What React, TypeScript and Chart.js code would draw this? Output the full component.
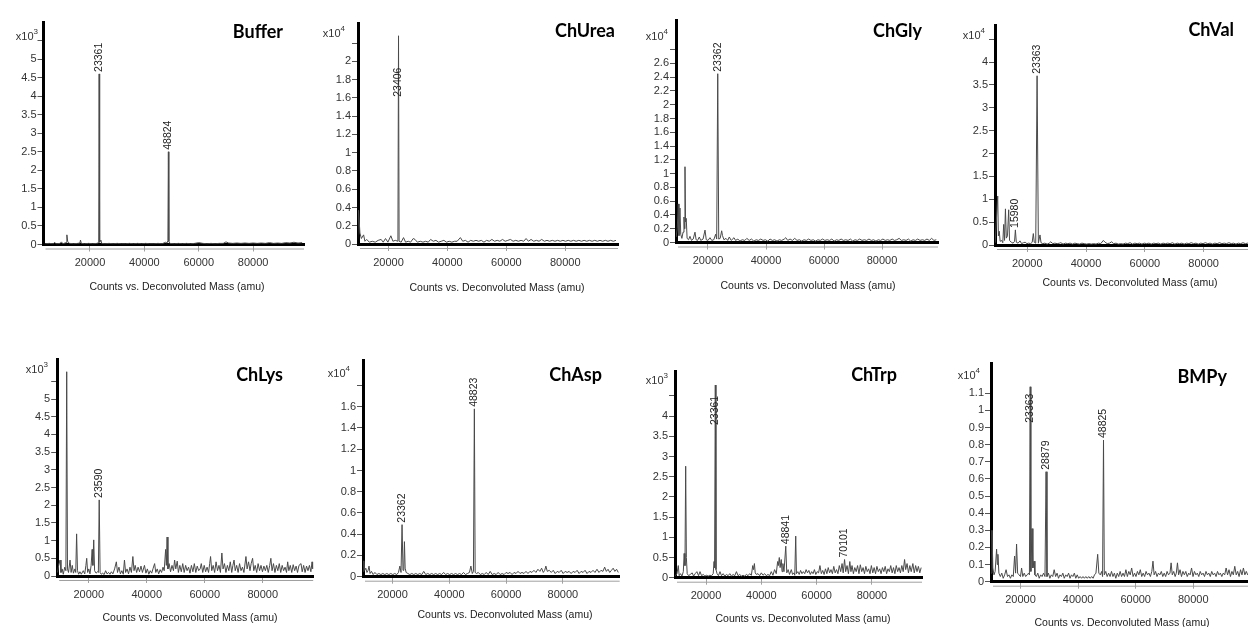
import { useEffect, useRef } from 'react';
import { Chart, registerables } from 'chart.js';

Chart.register(...registerables);

const SANS = '"Liberation Sans", Arial, sans-serif';
const TITLE_FONT = '700 18px Lato, "Open Sans", sans-serif';
const CAPTION = 'Counts vs. Deconvoluted Mass (amu)';

// Shared mass-axis ticks (amu)
const massTicks = [20000, 40000, 60000, 80000];

// ---- Buffer (counts x10^3) ----
const bufferSpectrum = [
  [3500, 0.02], [5000, 0.03], [6500, 0.02], [7000, 0.06], [7500, 0.02], [9000, 0.03], [9500, 0.07], [10000, 0.02],
  [11200, 0.05], [11500, 0.26], [11800, 0.08], [12500, 0.03], [14000, 0.02], [15500, 0.03], [16300, 0.04], [16500, 0.12],
  [16800, 0.03], [18000, 0.02], [19500, 0.03], [21000, 0.02], [22500, 0.03], [23200, 0.05], [23361, 4.6], [23550, 0.06],
  [24000, 0.12], [24300, 0.03], [25500, 0.02], [27000, 0.03], [28500, 0.02], [30000, 0.03], [31500, 0.02], [33000, 0.02],
  [34500, 0.03], [36000, 0.02], [37500, 0.03], [39000, 0.02], [40500, 0.03], [42000, 0.02], [43500, 0.02], [45000, 0.03],
  [46500, 0.02], [47800, 0.06], [48300, 0.04], [48650, 0.1], [48824, 2.5], [49000, 0.08], [49400, 0.03], [51000, 0.02],
  [52500, 0.03], [54000, 0.02], [55500, 0.03], [57000, 0.02], [58500, 0.03], [60000, 0.05], [61500, 0.03], [63000, 0.02],
  [64500, 0.03], [66000, 0.02], [67500, 0.03], [69000, 0.03], [70000, 0.07], [71000, 0.04], [72500, 0.03], [74000, 0.04],
  [75500, 0.03], [77000, 0.04], [78500, 0.03], [80000, 0.04], [81500, 0.03], [83000, 0.04], [84500, 0.03], [86000, 0.05],
  [87500, 0.03], [89000, 0.04], [90500, 0.03], [92000, 0.05], [93500, 0.04], [95000, 0.06], [96500, 0.04], [98000, 0.05],
];
const bufferPeakLabels = ['23361', '48824'];
const bufferYTicks = [0, 0.5, 1, 1.5, 2, 2.5, 3, 3.5, 4, 4.5, 5, 5.5];

// ---- ChUrea (counts x10^4) ----
const chUreaSpectrum = [
  [9500, 0.05], [9850, 0.37], [10300, 0.12], [10800, 0.06], [11550, 0.1], [12000, 0.03], [12600, 0.05], [13500, 0.02],
  [14500, 0.03], [15500, 0.02], [16500, 0.04], [17500, 0.05], [18200, 0.02], [19000, 0.06], [19800, 0.02], [20800, 0.09],
  [21500, 0.03], [22300, 0.04], [23200, 0.03], [23406, 2.28], [23600, 0.03], [24300, 0.02], [25100, 0.07], [25800, 0.02],
  [26700, 0.03], [27500, 0.02], [28400, 0.06], [29000, 0.05], [29800, 0.02], [30800, 0.03], [31700, 0.02], [32600, 0.03],
  [33500, 0.02], [34300, 0.05], [35200, 0.03], [36100, 0.04], [37000, 0.02], [37900, 0.03], [38800, 0.04], [39700, 0.02],
  [40600, 0.03], [41500, 0.02], [42400, 0.03], [43300, 0.03], [44400, 0.07], [45200, 0.03], [46100, 0.04], [47000, 0.02],
  [47900, 0.04], [48800, 0.03], [49700, 0.04], [50600, 0.03], [51500, 0.04], [52400, 0.02], [53300, 0.04], [54200, 0.03],
  [55100, 0.05], [56000, 0.03], [56900, 0.04], [57800, 0.03], [58700, 0.05], [59600, 0.03], [60500, 0.04], [61400, 0.05],
  [62300, 0.03], [63200, 0.04], [64100, 0.03], [65000, 0.04], [65900, 0.03], [66700, 0.06], [67500, 0.03], [68400, 0.05],
  [69300, 0.03], [70200, 0.04], [71100, 0.03], [72000, 0.05], [72900, 0.03], [73800, 0.04], [74700, 0.03], [75600, 0.04],
  [76500, 0.03], [77400, 0.04], [78300, 0.03], [79200, 0.04], [80100, 0.03], [81000, 0.04], [81900, 0.03], [82800, 0.04],
  [83700, 0.03], [84600, 0.04], [85500, 0.03], [86400, 0.04], [87300, 0.03], [88200, 0.04], [89100, 0.03], [90000, 0.04],
  [90900, 0.03], [91800, 0.04], [92700, 0.03], [93600, 0.04], [94500, 0.03], [95400, 0.04], [96300, 0.03], [97200, 0.04],
];
const chUreaPeakLabels = ['23406'];
const chUreaYTicks = [0, 0.2, 0.4, 0.6, 0.8, 1, 1.2, 1.4, 1.6, 1.8, 2, 2.2];

// ---- ChGly (counts x10^4) ----
const chGlySpectrum = [
  [9000, 0.08], [9400, 0.2], [9760, 0.56], [10000, 0.1], [10340, 0.5], [10600, 0.12], [11000, 0.06], [11400, 0.15],
  [11720, 0.37], [11900, 0.2], [12070, 1.1], [12250, 0.3], [12500, 0.35], [12800, 0.06], [13300, 0.04], [13790, 0.09],
  [14300, 0.03], [14900, 0.05], [15520, 0.15], [15900, 0.04], [16400, 0.03], [17000, 0.08], [17500, 0.03], [18300, 0.05],
  [18970, 0.18], [19400, 0.04], [20000, 0.03], [20690, 0.07], [21300, 0.03], [22000, 0.04], [22650, 0.12], [23000, 0.05],
  [23362, 2.45], [23700, 0.05], [24200, 0.06], [24720, 0.17], [25000, 0.1], [25500, 0.04], [26200, 0.06], [26800, 0.03],
  [27350, 0.08], [28000, 0.03], [28970, 0.07], [29500, 0.03], [30300, 0.05], [31000, 0.02], [31800, 0.04], [32700, 0.03],
  [33400, 0.06], [34200, 0.03], [35000, 0.05], [35800, 0.02], [36600, 0.04], [37400, 0.03], [38200, 0.05], [39000, 0.03],
  [39800, 0.04], [40600, 0.02], [41400, 0.05], [42200, 0.03], [43000, 0.04], [43800, 0.02], [44600, 0.04], [45400, 0.03],
  [46300, 0.05], [46800, 0.07], [47500, 0.03], [48300, 0.05], [49100, 0.03], [49900, 0.06], [50700, 0.03], [51500, 0.04],
  [52300, 0.02], [53100, 0.04], [53900, 0.03], [54700, 0.05], [55500, 0.03], [56300, 0.04], [57100, 0.02], [57900, 0.04],
  [58700, 0.03], [59500, 0.05], [60300, 0.03], [61100, 0.04], [61900, 0.03], [62700, 0.05], [63500, 0.02], [64300, 0.04],
  [65100, 0.03], [65900, 0.05], [66700, 0.03], [67500, 0.04], [68300, 0.03], [69100, 0.05], [69900, 0.02], [70700, 0.04],
  [71500, 0.03], [72300, 0.05], [73100, 0.03], [73900, 0.04], [74700, 0.03], [75500, 0.05], [76300, 0.03], [77100, 0.04],
  [77900, 0.02], [78700, 0.04], [79500, 0.03], [80300, 0.05], [81100, 0.03], [81900, 0.04], [82700, 0.03], [83500, 0.05],
  [84300, 0.03], [85100, 0.04], [85900, 0.06], [86700, 0.03], [87500, 0.04], [88300, 0.03], [89100, 0.05], [89900, 0.02],
  [90700, 0.04], [91500, 0.03], [92300, 0.05], [93100, 0.03], [93900, 0.04], [94700, 0.03], [95500, 0.05], [96300, 0.03],
  [97100, 0.06], [97900, 0.03], [98700, 0.04],
];
const chGlyPeakLabels = ['23362'];
const chGlyYTicks = [0, 0.2, 0.4, 0.6, 0.8, 1, 1.2, 1.4, 1.6, 1.8, 2, 2.2, 2.4, 2.6, 2.8];

// ---- ChVal (counts x10^4) ----
const chValSpectrum = [
  [9100, 0.05], [9970, 1.07], [10200, 0.2], [10500, 0.3], [10800, 0.08], [11300, 0.1], [11700, 0.05], [12000, 0.45],
  [12300, 0.1], [12600, 0.79], [12900, 0.15], [13300, 0.2], [13700, 0.77], [14000, 0.1], [14600, 0.06], [15200, 0.04],
  [15700, 0.08], [15980, 0.33], [16300, 0.06], [16900, 0.04], [17550, 0.09], [18100, 0.03], [18700, 0.05], [19300, 0.06],
  [19900, 0.03], [20500, 0.04], [21200, 0.03], [21700, 0.06], [22080, 0.25], [22400, 0.06], [22900, 0.04], [23363, 3.7],
  [23800, 0.04], [24350, 0.22], [24700, 0.05], [25300, 0.03], [26000, 0.04], [26800, 0.02], [27500, 0.04], [28000, 0.07],
  [28700, 0.03], [29400, 0.04], [30200, 0.03], [31000, 0.04], [31400, 0.05], [32200, 0.02], [33000, 0.04], [33800, 0.03],
  [34600, 0.04], [35400, 0.02], [36200, 0.04], [37000, 0.03], [37800, 0.02], [38600, 0.04], [39400, 0.03], [40200, 0.02],
  [41000, 0.03], [41800, 0.02], [42600, 0.03], [43400, 0.02], [44200, 0.04], [45000, 0.03], [45900, 0.1], [46500, 0.06],
  [47200, 0.03], [48000, 0.04], [48700, 0.07], [49400, 0.03], [50200, 0.04], [51000, 0.02], [51800, 0.03], [52600, 0.02],
  [53400, 0.04], [54200, 0.03], [55000, 0.05], [55800, 0.02], [56600, 0.04], [57400, 0.03], [58200, 0.04], [59000, 0.02],
  [59800, 0.04], [60600, 0.03], [61400, 0.04], [62200, 0.02], [63000, 0.04], [63800, 0.03], [64600, 0.04], [65400, 0.02],
  [66200, 0.04], [67000, 0.03], [67800, 0.04], [68600, 0.03], [69400, 0.05], [70200, 0.02], [71000, 0.04], [71800, 0.03],
  [72600, 0.04], [73400, 0.02], [74200, 0.04], [75000, 0.03], [75800, 0.05], [76600, 0.03], [77400, 0.04], [78200, 0.02],
  [79000, 0.04], [79800, 0.03], [80600, 0.05], [81400, 0.03], [82200, 0.04], [83000, 0.02], [83800, 0.04], [84600, 0.03],
  [85400, 0.05], [86200, 0.03], [87000, 0.04], [87800, 0.03], [88600, 0.05], [89400, 0.03], [90200, 0.04], [91000, 0.02],
  [91800, 0.04], [92600, 0.03], [93400, 0.05], [94200, 0.03], [95000, 0.04], [95800, 0.03], [96600, 0.05], [97400, 0.03],
  [98200, 0.04], [99000, 0.03],
];
const chValPeakLabels = ['23363', '15980'];
const chValYTicks = [0, 0.5, 1, 1.5, 2, 2.5, 3, 3.5, 4, 4.5];

// ---- ChLys (counts x10^3) ----
const chLysSpectrum = [
  [9200, 0.1], [9600, 0.3], [10070, 0.45], [10400, 0.1], [10800, 0.2], [11200, 0.05], [11700, 0.25], [12100, 0.15],
  [12380, 5.77], [12650, 0.2], [13000, 0.1], [13530, 0.45], [13900, 0.1], [14300, 0.3], [14700, 0.08], [15200, 0.2],
  [15500, 0.1], [15800, 1.19], [16100, 0.15], [16500, 0.05], [16950, 0.12], [17400, 0.05], [18100, 0.15], [18600, 0.06],
  [19000, 0.3], [19280, 0.5], [19600, 0.1], [20000, 0.2], [20400, 0.06], [20800, 0.3], [21150, 0.75], [21400, 0.3],
  [21700, 1.02], [22000, 0.15], [22500, 0.08], [23000, 0.12], [23300, 0.1], [23590, 2.15], [23900, 0.1], [24300, 0.05],
  [24800, 0.08], [25300, 0.04], [25800, 0.15], [26300, 0.06], [26800, 0.1], [27300, 0.05], [27800, 0.12], [28300, 0.06],
  [28900, 0.2], [29500, 0.4], [29900, 0.1], [30400, 0.25], [30900, 0.06], [31400, 0.15], [31900, 0.05], [32300, 0.45],
  [32700, 0.1], [33200, 0.2], [33700, 0.06], [34200, 0.25], [34700, 0.1], [35200, 0.55], [35600, 0.15], [36000, 0.3],
  [36500, 0.1], [37000, 0.25], [37500, 0.12], [38000, 0.28], [38500, 0.1], [39200, 0.3], [39700, 0.08], [40200, 0.2],
  [40700, 0.05], [41200, 0.15], [41700, 0.08], [42200, 0.22], [42700, 0.35], [43100, 0.1], [43600, 0.2], [44100, 0.06],
  [44600, 0.18], [45100, 0.1], [45600, 0.25], [46000, 0.15], [46500, 0.75], [46750, 0.3], [47000, 1.1], [47300, 0.2],
  [47700, 0.35], [48200, 0.12], [48700, 0.3], [49200, 0.15], [49600, 0.45], [50000, 0.2], [50500, 0.42], [50900, 0.1],
  [51400, 0.3], [51900, 0.12], [52400, 0.35], [52900, 0.1], [53400, 0.3], [53900, 0.15], [54400, 0.25], [54900, 0.08],
  [55400, 0.3], [55900, 0.12], [56400, 0.35], [56900, 0.1], [57400, 0.28], [57900, 0.15], [58400, 0.2], [58800, 0.35],
  [59300, 0.1], [59800, 0.3], [60300, 0.12], [60800, 0.25], [61300, 0.1], [61700, 0.35], [62000, 0.55], [62400, 0.15],
  [62900, 0.3], [63400, 0.1], [63900, 0.4], [64400, 0.15], [64900, 0.3], [65400, 0.1], [65900, 0.65], [66300, 0.2],
  [66800, 0.35], [67300, 0.1], [67800, 0.3], [68300, 0.15], [68800, 0.4], [69300, 0.1], [69700, 0.3], [70100, 0.45],
  [70500, 0.15], [71000, 0.3], [71500, 0.1], [72000, 0.35], [72500, 0.15], [73000, 0.25], [73500, 0.1], [74200, 0.55],
  [74600, 0.2], [75100, 0.4], [75600, 0.15], [76000, 0.35], [76500, 0.5], [76900, 0.15], [77400, 0.3], [77900, 0.1],
  [78400, 0.35], [78900, 0.15], [79400, 0.3], [79900, 0.12], [80400, 0.28], [80900, 0.15], [81400, 0.3], [81900, 0.1],
  [82400, 0.3], [82800, 0.5], [83200, 0.15], [83700, 0.35], [84200, 0.1], [84700, 0.3], [85200, 0.15], [85700, 0.35],
  [86200, 0.1], [86700, 0.3], [87200, 0.15], [87700, 0.25], [88200, 0.1], [88600, 0.4], [89000, 0.15], [89500, 0.3],
  [90000, 0.1], [90500, 0.32], [91000, 0.15], [91500, 0.28], [92000, 0.1], [92500, 0.3], [93200, 0.35], [93600, 0.12],
  [94100, 0.3], [94600, 0.1], [95100, 0.28], [95600, 0.15], [96100, 0.3], [96600, 0.12], [97000, 0.4], [97300, 0.2],
];
const chLysPeakLabels = ['23590'];
const chLysYTicks = [0, 0.5, 1, 1.5, 2, 2.5, 3, 3.5, 4, 4.5, 5, 5.5];

// ---- ChAsp (counts x10^4) ----
const chAspSpectrum = [
  [9700, 0.05], [9900, 0.15], [10200, 0.06], [10600, 0.08], [11000, 0.04], [11400, 0.06], [11730, 0.1], [12100, 0.03],
  [12600, 0.05], [13200, 0.02], [13800, 0.04], [14500, 0.02], [15200, 0.03], [15900, 0.02], [16600, 0.03], [17300, 0.02],
  [18000, 0.03], [18700, 0.02], [19400, 0.03], [20100, 0.02], [20800, 0.03], [21500, 0.02], [22100, 0.04], [22600, 0.1],
  [23000, 0.04], [23362, 0.49], [23700, 0.06], [24000, 0.1], [24200, 0.33], [24450, 0.08], [24800, 0.04], [25400, 0.03],
  [26100, 0.02], [26800, 0.03], [27500, 0.02], [28200, 0.03], [28900, 0.02], [29600, 0.03], [30300, 0.02], [31000, 0.05],
  [31700, 0.02], [32400, 0.03], [33100, 0.02], [33800, 0.03], [34500, 0.02], [35200, 0.03], [35900, 0.02], [36600, 0.03],
  [37300, 0.02], [38000, 0.04], [38700, 0.02], [39400, 0.03], [40100, 0.02], [40800, 0.03], [41500, 0.02], [42200, 0.03],
  [42900, 0.02], [43600, 0.03], [44300, 0.02], [45000, 0.04], [45700, 0.02], [46400, 0.03], [47100, 0.04], [47600, 0.1],
  [48100, 0.03], [48500, 0.05], [48823, 1.58], [49100, 0.04], [49600, 0.03], [50200, 0.04], [50900, 0.02], [51600, 0.03],
  [52300, 0.02], [53000, 0.04], [53700, 0.02], [54400, 0.05], [55100, 0.02], [55800, 0.03], [56500, 0.02], [57200, 0.04],
  [57900, 0.02], [58600, 0.03], [59300, 0.02], [60000, 0.04], [60700, 0.03], [61400, 0.04], [62100, 0.02], [62800, 0.04],
  [63500, 0.03], [64200, 0.05], [64900, 0.03], [65600, 0.04], [66300, 0.03], [67000, 0.05], [67700, 0.03], [68400, 0.05],
  [69100, 0.04], [69800, 0.06], [70500, 0.04], [71200, 0.07], [71900, 0.05], [72500, 0.08], [73100, 0.04], [73600, 0.06],
  [74000, 0.1], [74500, 0.05], [75200, 0.06], [75900, 0.04], [76600, 0.06], [77300, 0.03], [78000, 0.05], [78700, 0.04],
  [79400, 0.06], [80100, 0.03], [80800, 0.05], [81500, 0.04], [82200, 0.05], [82900, 0.03], [83600, 0.05], [84300, 0.04],
  [85000, 0.06], [85700, 0.03], [86400, 0.05], [87100, 0.04], [87800, 0.06], [88500, 0.03], [89200, 0.05], [89900, 0.04],
  [90600, 0.06], [91300, 0.04], [92000, 0.07], [92700, 0.04], [93400, 0.06], [94100, 0.05], [94700, 0.09], [95300, 0.05],
  [95900, 0.07], [96500, 0.04], [97100, 0.06], [97700, 0.08], [98300, 0.05], [98900, 0.07], [99500, 0.04],
];
const chAspPeakLabels = ['23362', '48823'];
const chAspYTicks = [0, 0.2, 0.4, 0.6, 0.8, 1, 1.2, 1.4, 1.6, 1.8];

// ---- ChTrp (counts x10^3) ----
const chTrpSpectrum = [
  [8900, 0.05], [9500, 0.1], [9980, 0.3], [10300, 0.05], [10800, 0.1], [11300, 0.04], [11800, 0.15], [12100, 0.6],
  [12400, 0.3], [12650, 2.76], [12900, 0.5], [13200, 0.1], [13700, 0.05], [14300, 0.08], [15000, 0.12], [15500, 0.04],
  [16100, 0.1], [16700, 0.15], [17300, 0.05], [17830, 0.15], [18400, 0.05], [19000, 0.08], [19600, 0.04], [20200, 0.06],
  [20800, 0.04], [21400, 0.06], [22000, 0.05], [22600, 0.1], [22900, 0.4], [23100, 0.25], [23361, 4.77], [23600, 0.2],
  [24000, 0.1], [24500, 0.05], [25060, 0.15], [25600, 0.05], [26200, 0.1], [26800, 0.04], [27400, 0.08], [28000, 0.05],
  [28600, 0.1], [29200, 0.04], [29800, 0.08], [30400, 0.05], [31000, 0.15], [31600, 0.05], [32200, 0.08], [32800, 0.04],
  [33400, 0.06], [34000, 0.04], [34600, 0.08], [35200, 0.05], [35800, 0.1], [36400, 0.06], [36900, 0.3], [37200, 0.2],
  [37500, 0.35], [37800, 0.12], [38200, 0.08], [38800, 0.1], [39400, 0.05], [40000, 0.12], [40600, 0.06], [41200, 0.1],
  [41800, 0.05], [42400, 0.08], [43000, 0.05], [43600, 0.15], [44200, 0.06], [44800, 0.2], [45400, 0.1], [45900, 0.4],
  [46150, 0.3], [46500, 0.5], [46800, 0.25], [47200, 0.45], [47500, 0.15], [47800, 0.35], [48200, 0.15], [48841, 0.78],
  [49200, 0.12], [49700, 0.2], [50200, 0.08], [50850, 0.2], [51300, 0.08], [51800, 0.12], [52100, 0.06], [52440, 1.03],
  [52700, 0.1], [53200, 0.15], [53700, 0.08], [54200, 0.18], [54700, 0.1], [55200, 0.15], [55700, 0.1], [56200, 0.2],
  [56700, 0.12], [57200, 0.18], [57700, 0.08], [58200, 0.15], [58700, 0.1], [59200, 0.2], [59700, 0.08], [60200, 0.15],
  [60700, 0.12], [61200, 0.3], [61700, 0.1], [62200, 0.18], [62700, 0.08], [63200, 0.22], [63700, 0.1], [64200, 0.25],
  [64700, 0.12], [65200, 0.2], [65700, 0.1], [66200, 0.28], [66700, 0.12], [67200, 0.2], [67700, 0.1], [68200, 0.3],
  [68700, 0.15], [69200, 0.35], [69600, 0.12], [70101, 0.45], [70500, 0.15], [71000, 0.3], [71500, 0.1], [72000, 0.4],
  [72400, 0.15], [72800, 0.3], [73300, 0.1], [73800, 0.25], [74300, 0.15], [74800, 0.3], [75300, 0.1], [75800, 0.32],
  [76300, 0.15], [76800, 0.25], [77300, 0.1], [77800, 0.28], [78300, 0.15], [78800, 0.22], [79300, 0.1], [79800, 0.3],
  [80300, 0.12], [80800, 0.25], [81300, 0.1], [81800, 0.28], [82300, 0.15], [82800, 0.22], [83300, 0.1], [83800, 0.25],
  [84300, 0.15], [84800, 0.28], [85300, 0.1], [85800, 0.22], [86300, 0.15], [86800, 0.3], [87300, 0.12], [87800, 0.25],
  [88300, 0.1], [88800, 0.3], [89300, 0.15], [89800, 0.25], [90300, 0.12], [90800, 0.3], [91300, 0.15], [91800, 0.45],
  [92200, 0.2], [92700, 0.35], [93200, 0.12], [93700, 0.3], [94200, 0.15], [94800, 0.35], [95300, 0.12], [95800, 0.3],
  [96300, 0.15], [96800, 0.28], [97300, 0.12], [97800, 0.25],
];
const chTrpPeakLabels = ['23361', '48841', '70101'];
const chTrpYTicks = [0, 0.5, 1, 1.5, 2, 2.5, 3, 3.5, 4, 4.5];

// ---- BMPy (counts x10^4) ----
const bmpySpectrum = [
  [9800, 0.05], [10100, 0.3], [10400, 0.08], [10800, 0.04], [11200, 0.06], [11700, 0.19], [11950, 0.1], [12160, 0.16],
  [12500, 0.05], [13000, 0.03], [13500, 0.05], [14000, 0.02], [14500, 0.04], [15000, 0.07], [15500, 0.03], [16000, 0.04],
  [16500, 0.02], [17000, 0.04], [17500, 0.03], [17950, 0.15], [18300, 0.05], [18640, 0.22], [19000, 0.05], [19500, 0.04],
  [20000, 0.03], [20380, 0.08], [20800, 0.03], [21300, 0.05], [21800, 0.03], [22300, 0.04], [22800, 0.05], [23100, 0.04],
  [23363, 1.138], [23600, 0.06], [24000, 0.31], [24300, 0.08], [24700, 0.12], [25000, 0.04], [25500, 0.03], [26000, 0.05],
  [26500, 0.02], [27000, 0.04], [27500, 0.03], [28000, 0.05], [28500, 0.03], [28879, 0.642], [29200, 0.03], [29700, 0.05],
  [30200, 0.02], [30700, 0.04], [31200, 0.03], [31700, 0.07], [32200, 0.03], [32700, 0.05], [33200, 0.02], [33700, 0.04],
  [34200, 0.03], [34700, 0.05], [35200, 0.02], [35700, 0.04], [36200, 0.03], [36700, 0.05], [37200, 0.02], [37700, 0.04],
  [38200, 0.03], [38700, 0.05], [39200, 0.02], [39700, 0.04], [40200, 0.02], [40700, 0.03], [41200, 0.02], [41700, 0.03],
  [42200, 0.02], [42700, 0.03], [43200, 0.02], [43700, 0.03], [44200, 0.02], [44700, 0.03], [45200, 0.02], [45700, 0.04],
  [46200, 0.05], [46800, 0.16], [47200, 0.05], [47700, 0.04], [48200, 0.06], [48500, 0.03], [48825, 0.827], [49100, 0.04],
  [49600, 0.06], [50100, 0.03], [50600, 0.05], [51100, 0.03], [51600, 0.06], [52100, 0.03], [52600, 0.05], [53100, 0.02],
  [53600, 0.05], [54100, 0.03], [54600, 0.06], [55100, 0.03], [55600, 0.05], [56100, 0.03], [56600, 0.07], [57100, 0.03],
  [57600, 0.06], [58100, 0.04], [58600, 0.08], [59100, 0.03], [59600, 0.05], [60100, 0.03], [60600, 0.06], [61100, 0.04],
  [61600, 0.07], [62100, 0.03], [62600, 0.05], [63100, 0.03], [63600, 0.06], [64100, 0.04], [64600, 0.05], [65100, 0.03],
  [65600, 0.06], [66000, 0.12], [66400, 0.04], [66900, 0.06], [67400, 0.03], [67900, 0.05], [68400, 0.04], [68900, 0.06],
  [69400, 0.03], [69900, 0.05], [70400, 0.03], [70900, 0.06], [71400, 0.04], [71900, 0.05], [72300, 0.11], [72700, 0.04],
  [73200, 0.06], [73700, 0.03], [74100, 0.05], [74500, 0.11], [74900, 0.04], [75400, 0.07], [75900, 0.03], [76400, 0.06],
  [76900, 0.04], [77400, 0.06], [77900, 0.03], [78400, 0.05], [78900, 0.04], [79400, 0.08], [79900, 0.03], [80400, 0.06],
  [80900, 0.04], [81400, 0.05], [81900, 0.03], [82400, 0.06], [82900, 0.04], [83400, 0.05], [83900, 0.03], [84400, 0.06],
  [84900, 0.04], [85400, 0.05], [85900, 0.03], [86400, 0.06], [86900, 0.04], [87400, 0.05], [87900, 0.03], [88400, 0.06],
  [88900, 0.04], [89400, 0.05], [89900, 0.03], [90400, 0.05], [90900, 0.04], [91400, 0.08], [91900, 0.04], [92400, 0.07],
  [92900, 0.03], [93400, 0.06], [93900, 0.04], [94400, 0.09], [94900, 0.04], [95400, 0.06], [95900, 0.03], [96400, 0.07],
  [96900, 0.04], [97400, 0.08], [97900, 0.04], [98400, 0.06], [98900, 0.04], [99400, 0.05],
];
const bmpyPeakLabels = ['23363', '28879', '48825'];
const bmpyYTicks = [0, 0.1, 0.2, 0.3, 0.4, 0.5, 0.6, 0.7, 0.8, 0.9, 1, 1.1];

type PanelSpec = {
  title: string;
  exp: string;
  data: number[][];
  peaks: string[];
  yTicks: number[];
  blankTop: boolean; // highest tick drawn without a label
  xMin: number;
  xMax: number;
  yMax: number;
  plot: [number, number, number, number]; // left, top, right, bottom (page px)
  titleAt: [number, number]; // right edge, middle
  expAt: [number, number]; // right edge, middle
  captionAt: [number, number];
  labelDrop?: Record<string, number>;
};

const panels: PanelSpec[] = [
  {
    title: 'Buffer', exp: '3', data: bufferSpectrum, peaks: bufferPeakLabels, yTicks: bufferYTicks, blankTop: true,
    xMin: 2900, xMax: 98700, yMax: 6.0, plot: [43.5, 22, 304, 244.5],
    titleAt: [283, 32], expAt: [38, 36], captionAt: [177, 287],
  },
  {
    title: 'ChUrea', exp: '4', data: chUreaSpectrum, peaks: chUreaPeakLabels, yTicks: chUreaYTicks, blankTop: true,
    xMin: 9650, xMax: 97900, yMax: 2.42, plot: [358, 23, 618, 244],
    titleAt: [615, 31], expAt: [345, 33], captionAt: [497, 288], labelDrop: { '23406': 61 },
  },
  {
    title: 'ChGly', exp: '4', data: chGlySpectrum, peaks: chGlyPeakLabels, yTicks: chGlyYTicks, blankTop: true,
    xMin: 8970, xMax: 99300, yMax: 3.23, plot: [676, 20, 938, 242.5],
    titleAt: [922, 31], expAt: [668, 36], captionAt: [808, 286],
  },
  {
    title: 'ChVal', exp: '4', data: chValSpectrum, peaks: chValPeakLabels, yTicks: chValYTicks, blankTop: true,
    xMin: 9050, xMax: 99000, yMax: 4.81, plot: [995, 25, 1259.5, 245],
    titleAt: [1234, 30], expAt: [985, 35], captionAt: [1130, 283],
  },
  {
    title: 'ChLys', exp: '3', data: chLysSpectrum, peaks: chLysPeakLabels, yTicks: chLysYTicks, blankTop: true,
    xMin: 9100, xMax: 97400, yMax: 6.13, plot: [57.2, 359, 313.2, 576],
    titleAt: [283, 375], expAt: [48, 369], captionAt: [190, 618],
  },
  {
    title: 'ChAsp', exp: '4', data: chAspSpectrum, peaks: chAspPeakLabels, yTicks: chAspYTicks, blankTop: true,
    xMin: 9610, xMax: 100000, yMax: 2.04, plot: [363, 360, 619.7, 576.7],
    titleAt: [602, 375], expAt: [350, 373], captionAt: [505, 615],
  },
  {
    title: 'ChTrp', exp: '3', data: chTrpSpectrum, peaks: chTrpPeakLabels, yTicks: chTrpYTicks, blankTop: true,
    xMin: 8790, xMax: 98100, yMax: 5.1, plot: [675, 371.7, 922, 577.7],
    titleAt: [897, 375], expAt: [668, 380], captionAt: [803, 619], labelDrop: { '23361': 40 },
  },
  {
    title: 'BMPy', exp: '4', data: bmpySpectrum, peaks: bmpyPeakLabels, yTicks: bmpyYTicks, blankTop: false,
    xMin: 9760, xMax: 100000, yMax: 1.275, plot: [991, 363.3, 1250.9, 581.7],
    titleAt: [1227, 376.7], expAt: [980, 375], captionAt: [1122, 623], labelDrop: { '23363': 36 },
  },
];

const Y_AXIS_W = 40;
const X_AXIS_H = 30;

// Draws the panel name, the x10^n multiplier, the axis caption, the thin rule
// under the mass axis and the rotated peak mass labels.
const spectrumDecor = {
  id: 'spectrumDecor',
  afterDraw(chart: any, _args: any, opts: any) {
    const p: PanelSpec = opts.panel;
    const ox: number = opts.ox;
    const oy: number = opts.oy;
    const { ctx, chartArea: a } = chart;
    const xs = chart.scales.x;
    const ys = chart.scales.y;
    ctx.save();

    ctx.strokeStyle = '#a0a0a0';
    ctx.lineWidth = 1;
    ctx.beginPath();
    ctx.moveTo(a.left + 2, a.bottom + 4.5);
    ctx.lineTo(a.right, a.bottom + 4.5);
    ctx.stroke();

    ctx.fillStyle = '#000';
    ctx.font = TITLE_FONT;
    ctx.textAlign = 'right';
    ctx.textBaseline = 'middle';
    ctx.fillText(p.title, p.titleAt[0] - ox, p.titleAt[1] - oy);

    ctx.fillStyle = '#333';
    ctx.font = `11px ${SANS}`;
    const baseW = ctx.measureText('x10').width;
    ctx.font = `8px ${SANS}`;
    const supW = ctx.measureText(p.exp).width;
    const ex = p.expAt[0] - ox;
    const ey = p.expAt[1] - oy;
    ctx.textAlign = 'left';
    ctx.font = `11px ${SANS}`;
    ctx.fillText('x10', ex - supW - baseW, ey + 1);
    ctx.font = `8px ${SANS}`;
    ctx.fillText(p.exp, ex - supW, ey - 4);

    ctx.fillStyle = '#222';
    ctx.font = `10.5px ${SANS}`;
    ctx.textAlign = 'center';
    ctx.fillText(CAPTION, p.captionAt[0] - ox, p.captionAt[1] - oy);

    ctx.font = `10.5px ${SANS}`;
    for (const label of p.peaks) {
      const mass = Number(label);
      const apex = p.data.find((d) => d[0] === mass);
      const px = xs.getPixelForValue(mass);
      const py = ys.getPixelForValue(apex ? apex[1] : 0);
      const drop = p.labelDrop && p.labelDrop[label] !== undefined ? p.labelDrop[label] : -2;
      ctx.save();
      ctx.translate(px, py + drop);
      ctx.rotate(-Math.PI / 2);
      ctx.textAlign = 'left';
      ctx.textBaseline = 'middle';
      ctx.fillText(label, 0, 0);
      ctx.restore();
    }
    ctx.restore();
  },
};

function SpectrumPanel({ p }: { p: PanelSpec }) {
  const ref = useRef<HTMLCanvasElement | null>(null);
  const [l, t, r, b] = p.plot;
  const ox = Math.floor(l - 58);
  const oy = Math.floor(t - 28);
  const w = Math.ceil(r + 8 - ox);
  const h = Math.ceil(b + 56 - oy);

  useEffect(() => {
    if (!ref.current) return;
    const top = p.yTicks[p.yTicks.length - 1];
    const chart = new Chart(ref.current, {
      type: 'line',
      data: {
        datasets: [
          {
            data: p.data.map(([x, y]) => ({ x, y })),
            borderColor: '#4a4a4a',
            borderWidth: 1,
            pointRadius: 0,
            tension: 0,
            fill: false,
          },
        ],
      },
      options: {
        responsive: false,
        animation: false,
        devicePixelRatio: 1,
        events: [],
        layout: {
          autoPadding: false,
          padding: { left: l - ox - Y_AXIS_W, top: t - oy, right: ox + w - r, bottom: oy + h - b - X_AXIS_H },
        },
        plugins: {
          legend: { display: false },
          tooltip: { enabled: false },
          spectrumDecor: { panel: p, ox, oy },
        } as any,
        scales: {
          x: {
            type: 'linear',
            min: p.xMin,
            max: p.xMax,
            afterFit: (s: any) => { s.height = X_AXIS_H; },
            afterBuildTicks: (s: any) => { s.ticks = massTicks.map((v) => ({ value: v })); },
            ticks: {
              autoSkip: false,
              maxRotation: 0,
              padding: 5,
              color: '#333',
              font: { family: SANS, size: 11 },
              callback: (v: any) => String(v),
            },
            grid: { display: true, drawOnChartArea: false, drawTicks: true, tickLength: 7, color: '#a0a0a0' },
            border: { display: true, color: '#000', width: 3 },
          },
          y: {
            type: 'linear',
            min: 0,
            max: p.yMax,
            afterFit: (s: any) => { s.width = Y_AXIS_W; },
            afterBuildTicks: (s: any) => { s.ticks = p.yTicks.map((v) => ({ value: v })); },
            ticks: {
              autoSkip: false,
              padding: 1,
              color: '#333',
              font: { family: SANS, size: 11 },
              callback: (v: any) => (p.blankTop && v === top ? '' : String(v)),
            },
            grid: { display: true, drawOnChartArea: false, drawTicks: true, tickLength: 6, color: '#555' },
            border: { display: true, color: '#000', width: 3 },
          },
        },
      },
      plugins: [spectrumDecor],
    });
    return () => chart.destroy();
  }, []);

  return (
    <canvas
      ref={ref}
      width={w}
      height={h}
      style={{ position: 'absolute', left: ox, top: oy, width: w, height: h }}
    />
  );
}

export default function App() {
  return (
    <div
      style={{
        position: 'fixed',
        left: 0,
        top: 0,
        width: 1248,
        height: 627,
        overflow: 'hidden',
        background: '#fff',
      }}
    >
      {panels.map((p) => (
        <SpectrumPanel key={p.title} p={p} />
      ))}
    </div>
  );
}
